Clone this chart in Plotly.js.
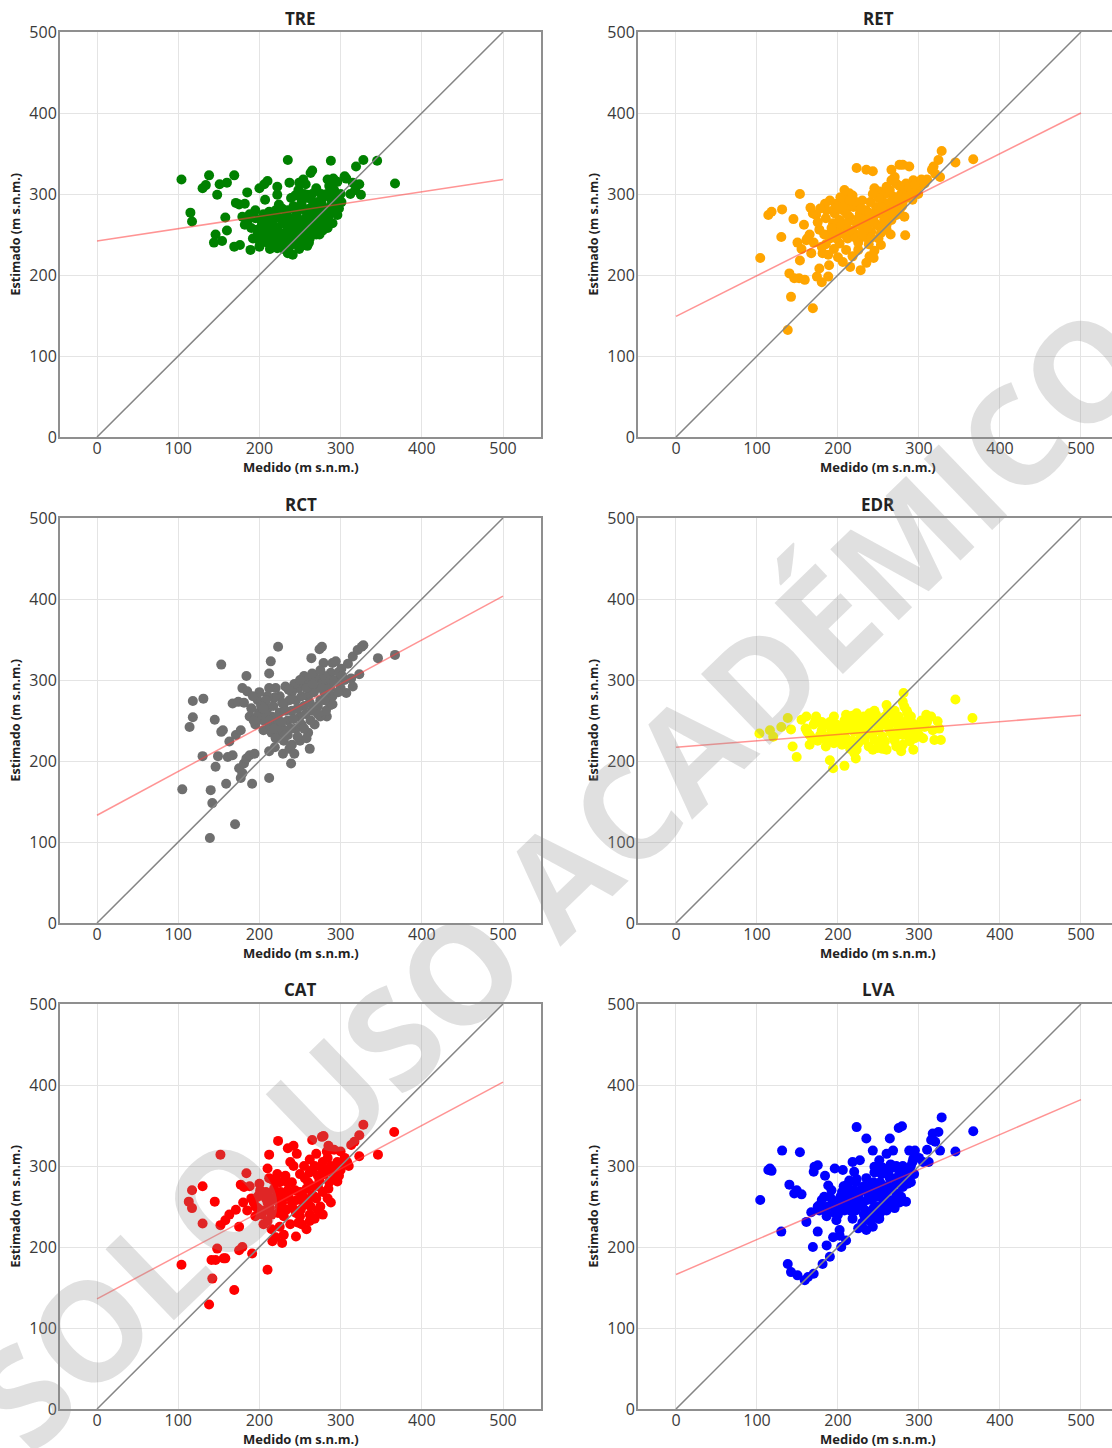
<!DOCTYPE html>
<html><head><meta charset="utf-8">
<script src="https://cdn.plot.ly/plotly-3.0.1.min.js"></script>
<style>html,body{margin:0;padding:0;background:#fff}#chart{width:1112px;height:1448px}</style>
</head><body><div id="chart"></div>
<script>
const panelNames = ['TRE','RET','RCT','EDR','CAT','LVA'];
const panelColors = ['#008000','#FFA500','#6f6f6f','#FFFF00','#FF0000','#0000FF'];
const fitIntercept = [242, 149, 133, 217, 136, 166];
const fitSlope = [0.152, 0.502, 0.541, 0.079, 0.535, 0.432];
const identityRange = [0, 500];
const tickValues = [0, 100, 200, 300, 400, 500];
const tickLabels = ['0', '100', '200', '300', '400', '500'];
const xTitleText = 'Medido (m s.n.m.)';
const yTitleText = 'Estimado (m s.n.m.)';
const watermarkText = 'SOLO USO ACADÉMICO';

// [Medido, Estimado]
const treData = [[104,318],[235,342],[288,341],[328,342],[345,341],[319,334],[367,313],[138,323],[169,323],[130,307],[134,311],[151,312],[160,314],[148,299],[185,302],[171,289],[182,288],[206,312],[210,316],[200,307],[222,309],[237,314],[249,314],[254,318],[263,326],[265,329],[284,318],[291,319],[305,322],[307,319],[315,314],[323,312],[325,299],[207,293],[222,299],[224,287],[239,295],[242,283],[257,312],[270,307],[278,295],[274,287],[259,299],[249,299],[115,277],[117,266],[158,271],[160,255],[146,250],[144,240],[154,242],[169,235],[176,237],[189,231],[222,233],[235,227],[241,225],[257,246],[290,264],[296,274],[175,287],[179,272],
[185,265],[190,258],[195,270],[198,250],[203,262],[208,255],[212,268],[215,248],[218,260],[222,272],[225,252],[228,264],[232,245],[235,258],[238,270],[240,250],[243,262],[246,276],[248,255],[250,268],[252,245],[255,260],[258,272],[260,252],[262,282],[265,265],[268,257],[270,275],[272,290],[275,268],[278,280],[280,262],[283,300],[285,272],[288,285],[290,278],[292,305],[295,290],[298,282],[300,300],[252,290],[255,300],[260,295],[265,300],[244,298],[248,305],[235,280],[228,282],[220,280],[212,278],[205,275],[195,280],[188,275],[182,262],[200,242],[210,240],[220,245],[230,240],[245,238],[255,237],[262,245],[270,250],[278,255],[284,258],[205,250],[215,257],[232,252],[242,285],[256,280],[266,290],[276,300],[286,310],[296,315],[312,300],[318,305],[230,232],[213,232],[200,235],
[192,245],[197,256],[202,268],[207,245],[213,262],[217,240],[223,255],[227,244],[231,266],[236,243],[239,256],[242,240],[247,250],[251,258],[254,242],[257,266],[261,240],[264,252],[267,270],[271,262],[274,250],[279,270],[282,276],[286,265],[289,292],[293,283],[297,296],[301,290],[226,238],[237,235],[249,232],[259,236],[217,268],[208,262],[233,275],[244,270],[253,284],[264,277],[277,287],[287,298],[268,283],[240,260],[226,270],[250,252],[262,258],[215,275],[200,255]];

const retData = [[104,221],[114,274],[118,278],[131,281],[145,269],[153,300],[130,247],[138,132],[142,173],[169,159],[140,202],[146,196],[152,196],[159,194],[174,198],[180,191],[188,198],[189,212],[177,208],[155,232],[161,243],[167,227],[181,227],[223,332],[235,330],[243,328],[276,336],[280,336],[288,334],[266,330],[270,321],[328,353],[324,342],[318,334],[316,330],[345,339],[367,343],[326,321],[283,249],[228,206],[244,221],[239,223],[253,237],[214,301],[210,292],[184,288],[173,274],[169,276],[177,256],[190,251],[202,239],[210,231],[206,216],[218,223],[225,231],[245,307],[251,303],[260,309],[266,317],[272,313],[284,313],[293,317],[301,311],[307,313],[292,293],[247,284],[255,291],[268,297],[276,280],[282,272],[219,284],[227,276],[235,280],[243,270],[223,264],[231,256],[214,272],[202,268],[196,276],[206,280],[186,280],[194,264],[210,260],[221,251],[233,247],[241,253],[251,260],[260,256],[266,268],[198,288],[206,295],[215,285],[225,270],[235,265],[248,262],[255,275],[262,285],[270,290],[278,300],[285,305],[290,298],[300,310],[240,290],[230,292],[218,298],[205,285],[200,255],[190,245],[185,238],[195,232],[212,245],[225,240],[238,238],[250,245],[260,262],[272,274],[280,290],[296,305],[310,318],[320,325],[265,250],[245,230],[235,215],[215,210],[200,222],[188,225],[180,235],[170,240],[165,250],[175,265],[185,270],[158,262],[162,245],[150,240],[153,218],[222,290],[208,305],[190,292],[178,282],[166,283],
[183,250],[192,258],[198,245],[204,262],[208,250],[213,266],[217,255],[222,246],[226,262],[229,250],[234,270],[237,258],[241,246],[245,265],[249,276],[253,252],[257,268],[262,276],[265,290],[269,280],[274,296],[279,285],[283,295],[287,308],[291,305],[295,312],[299,300],[303,318],[258,300],[250,295],[243,300],[229,282],[215,292],[203,296],[196,282],[211,275],[239,276],[254,283],[264,305],[276,310]];

const rctData = [[105,165],[139,105],[170,122],[142,148],[140,164],[159,172],[177,179],[191,172],[212,179],[114,242],[118,254],[118,274],[131,277],[145,251],[153,319],[223,341],[214,323],[212,308],[184,305],[179,290],[185,286],[130,206],[149,206],[146,193],[161,205],[167,207],[153,236],[155,238],[163,224],[171,232],[177,238],[167,271],[174,273],[181,272],[175,191],[181,197],[184,203],[188,207],[194,209],[179,185],[212,212],[219,217],[229,209],[237,215],[243,209],[239,197],[264,327],[274,338],[277,341],[279,321],[290,321],[294,323],[288,309],[301,314],[309,320],[315,329],[321,337],[326,341],[328,343],[323,307],[313,302],[307,284],[287,269],[283,255],[346,327],[367,331],
[200,260],[205,250],[210,265],[215,255],[220,245],[225,260],[230,270],[235,250],[240,262],[245,275],[250,255],[255,268],[260,280],[265,262],[270,290],[275,275],[280,285],[285,295],[290,280],[295,300],[300,290],[248,290],[255,295],[262,298],[270,302],[278,296],[240,285],[232,292],[225,280],[218,278],[210,280],[198,275],[190,265],[188,255],[195,245],[205,238],[215,235],[225,235],[235,232],[245,240],[252,245],[260,235],[268,245],[275,255],[282,262],[290,270],[230,225],[240,220],[250,225],[258,228],[262,215],[220,228],[228,240],[212,245],[280,305],[288,300],[265,308],[255,305],[275,312],[298,310],[305,300],[315,292],[208,275],[200,285],[192,280],
[202,268],[207,258],[212,250],[217,268],[222,255],[227,248],[232,262],[237,275],[242,252],[247,265],[252,280],[257,258],[262,272],[267,285],[272,268],[277,290],[282,278],[287,290],[292,298],[297,285],[302,305],[243,295],[250,300],[258,290],[266,295],[236,288],[228,272],[220,290],[212,290],[205,265],[197,255],[193,250],[238,240],[247,230],[255,240],[263,250],[272,258],[280,275],[218,240],[232,232]];

const edrData = [[103,234],[116,238],[120,230],[130,242],[138,253],[142,239],[144,218],[149,205],[155,251],[161,255],[173,255],[190,201],[194,191],[208,194],[222,203],[281,284],[260,269],[280,273],[282,267],[286,259],[345,276],[366,253],[323,249],[325,240],[317,238],[307,242],[305,228],[319,226],[327,226],[289,224],[293,214],[272,218],[280,220],[260,214],[249,216],[243,214],[223,214],[309,257],[315,255],[210,257],[223,259],[239,259],[247,257],[268,257],
[160,240],[165,232],[170,245],[175,225],[180,238],[185,230],[190,248],[195,222],[200,235],[205,242],[210,228],[215,250],[220,236],[225,222],[230,245],[235,232],[240,250],[245,226],[250,238],[255,230],[260,246],[265,236],[270,225],[275,242],[280,232],[285,250],[290,238],[295,228],[300,244],[250,220],[238,218],[228,228],[215,215],[205,220],[185,218],[175,248],[165,220],[195,255],[218,256],[232,255],[255,252],[270,252],[262,262],[245,262],[285,240],[275,255],[248,245],[222,243],[210,238],[192,238],[180,228],[300,232],[310,248],[268,230],[290,255],[255,215],[278,212],[220,210],
[162,236],[168,228],[172,250],[178,232],[183,244],[188,226],[193,232],[198,245],[203,228],[208,250],[213,240],[218,225],[223,248],[228,238],[233,226],[238,242],[243,234],[248,252],[253,244],[258,224],[263,240],[268,248],[273,232],[278,246],[283,236],[288,228],[293,246],[298,238],[303,250],[258,255],[243,255],[228,252],[212,222],[198,225],[180,248],[270,262],[285,262]];

const catData = [[104,178],[138,129],[169,147],[142,161],[141,184],[146,184],[158,186],[210,172],[152,314],[117,270],[113,256],[117,248],[130,275],[130,229],[145,256],[184,291],[210,297],[212,314],[223,331],[235,322],[242,325],[265,332],[277,336],[279,337],[328,351],[323,338],[317,330],[366,342],[346,314],[323,312],[313,326],[296,281],[284,260],[265,264],[245,213],[228,205],[216,207],[148,198],[156,186],[175,196],[179,200],[191,192],[152,227],[158,233],[175,225],[163,240],[171,246],[181,274],[177,277],
[190,260],[195,250],[200,265],[205,245],[210,255],[215,240],[220,262],[225,250],[230,238],[235,270],[240,255],[245,242],[250,268],[255,252],[260,280],[262,240],[268,262],[272,275],[275,250],[280,290],[285,272],[288,300],[292,285],[296,305],[300,295],[305,310],[310,300],[250,290],[255,300],[262,308],[270,315],[278,305],[283,318],[240,280],[232,288],[225,280],[218,272],[208,268],[200,278],[198,248],[205,228],[215,222],[225,225],[238,228],[248,230],[258,222],[268,235],[278,240],[288,255],[230,215],[220,212],[210,232],[195,238],[185,245],[180,255],[188,275],[242,300],[265,295],[285,325],[292,320],[300,318],[272,288],[260,258],[250,238],[230,262],[222,290],[212,285],[246,315],[238,305],
[193,255],[198,262],[203,240],[208,260],[213,248],[218,258],[223,242],[228,255],[233,246],[236,262],[241,248],[246,258],[251,246],[254,262],[258,272],[263,250],[266,275],[270,260],[274,282],[278,268],[282,295],[286,280],[290,292],[294,300],[298,288],[303,302],[308,305],[256,285],[262,292],[268,300],[276,298],[284,310],[244,270],[234,280],[226,268],[217,282],[210,265],[201,270],[252,228],[262,232],[272,245]];

const lvaData = [[104,258],[116,297],[118,294],[114,295],[131,319],[153,317],[140,277],[146,266],[155,265],[149,270],[130,219],[138,179],[142,169],[150,165],[159,159],[163,163],[170,167],[181,179],[190,188],[169,200],[175,219],[186,202],[194,212],[202,221],[198,233],[161,231],[167,243],[177,245],[171,299],[175,301],[170,293],[184,288],[188,276],[196,297],[206,295],[210,276],[223,348],[235,334],[243,319],[264,334],[275,347],[279,349],[328,360],[324,342],[317,340],[315,332],[367,343],[345,318],[326,319],[305,305],[293,309],[288,319],[295,319],[280,274],[284,256],[272,266],[251,307],[260,315],[268,319],[245,299],[249,293],[227,307],[218,305],[220,293],[223,284],[214,282],[251,235],[243,225],[241,239],[235,221],[225,223],[202,214],[210,208],[204,200],
[175,250],[180,258],[185,245],[190,262],[195,250],[200,240],[205,268],[210,255],[215,245],[220,262],[225,250],[228,270],[232,240],[236,258],[240,275],[244,248],[248,262],[252,280],[256,255],[260,268],[264,285],[268,258],[272,278],[276,290],[280,300],[284,285],[288,295],[292,305],[260,245],[250,235],[240,232],[230,230],[218,235],[206,248],[196,242],[186,238],[212,275],[222,280],[235,285],[245,292],[255,298],[265,302],[272,300],[262,275],[250,270],[238,265],[226,258],[214,258],[202,258],[192,270],[246,240],[270,248],[278,262],[290,280],[300,310],[310,320],[320,330],[312,305],
[178,252],[183,262],[188,250],[193,258],[198,248],[203,262],[208,245],[213,265],[217,252],[222,245],[226,265],[230,252],[234,245],[238,268],[242,258],[246,270],[250,250],[254,262],[258,275],[262,258],[266,272],[270,285],[274,265],[278,280],[282,295],[286,278],[290,300],[294,290],[254,290],[244,280],[232,275],[220,270],[207,275],[262,292],[270,298],[240,242],[252,242],[264,250],[276,255]];

const panelData = [treData, retData, rctData, edrData, catData, lvaData];

// ---- layout geometry (pixels in a 1112 x 1448 figure) ----
const W = 1112, H = 1448;
const colPx = [[60, 541], [638, 1112]];
const colRange = [[-45.6, 546.8], [-46.9, 538.3]];
const rowPx = [[32, 437], [518, 923], [1004, 1409]];
const FONT = 'Open Sans, Noto Sans, sans-serif';

const traces = [];
const layout = {
  width: W, height: H,
  margin: {l: 0, r: 0, t: 0, b: 0},
  paper_bgcolor: '#ffffff', plot_bgcolor: '#ffffff',
  showlegend: false,
  font: {family: FONT, color: '#333333'},
  annotations: []
};

panelNames.forEach((name, i) => {
  const row = Math.floor(i / 2), col = i % 2;
  const n = i + 1;
  const xa = n === 1 ? 'x' : 'x' + n;
  const ya = n === 1 ? 'y' : 'y' + n;
  const data = panelData[i];
  traces.push({
    type: 'scatter', mode: 'markers',
    x: data.map(p => p[0]), y: data.map(p => p[1]),
    xaxis: xa, yaxis: ya,
    marker: {color: panelColors[i], size: 10, line: {width: 0}},
    hoverinfo: 'x+y'
  });
  traces.push({
    type: 'scatter', mode: 'lines',
    x: identityRange, y: identityRange,
    xaxis: xa, yaxis: ya,
    line: {color: '#858585', width: 1.5}, hoverinfo: 'skip'
  });
  traces.push({
    type: 'scatter', mode: 'lines',
    x: identityRange, y: identityRange.map(v => fitIntercept[i] + fitSlope[i] * v),
    xaxis: xa, yaxis: ya,
    line: {color: 'rgba(255,60,60,0.55)', width: 1.5}, hoverinfo: 'skip'
  });
  const common = {
    showline: true, linecolor: '#8f8f8f', linewidth: 2,
    showgrid: true, gridcolor: '#e4e4e4', gridwidth: 1,
    zeroline: true, zerolinecolor: '#e4e4e4', zerolinewidth: 1,
    tickmode: 'array', tickvals: tickValues, ticktext: tickLabels,
    ticks: '', tickfont: {family: FONT, size: 16, color: '#3a3a3a'},
    fixedrange: true
  };
  layout[n === 1 ? 'xaxis' : 'xaxis' + n] = Object.assign({}, common, {
    domain: [colPx[col][0] / W, colPx[col][1] / W],
    range: colRange[col], anchor: ya, mirror: true, ticklabelstandoff: -4
  });
  layout[n === 1 ? 'yaxis' : 'yaxis' + n] = Object.assign({}, common, {
    domain: [1 - rowPx[row][1] / H, 1 - rowPx[row][0] / H],
    range: [0, 500], anchor: xa, mirror: col === 0, ticklabelstandoff: -2
  });
  const cx = col === 0 ? 300.5 : 878;
  layout.annotations.push({
    text: '<b>' + name + '</b>', xref: 'paper', yref: 'paper',
    x: cx / W, y: 1 - (rowPx[row][0] - 14) / H, xanchor: 'center', yanchor: 'middle',
    showarrow: false, font: {family: FONT, size: 17, color: '#222222'}
  });
  layout.annotations.push({
    text: '<b>' + xTitleText + '</b>', xref: 'paper', yref: 'paper',
    x: cx / W, y: 1 - (rowPx[row][1] + 30) / H, xanchor: 'center', yanchor: 'middle',
    showarrow: false, font: {family: FONT, size: 13, color: '#222222'}
  });
  layout.annotations.push({
    text: '<b>' + yTitleText + '</b>', xref: 'paper', yref: 'paper',
    x: (colPx[col][0] - 45) / W, y: 1 - (rowPx[row][0] + rowPx[row][1]) / 2 / H,
    xanchor: 'center', yanchor: 'middle', textangle: -90,
    showarrow: false, font: {family: FONT, size: 12.5, color: '#222222'}
  });
});

layout.annotations.push({
  text: '<b>' + watermarkText + '</b>', xref: 'paper', yref: 'paper',
  x: 557 / W, y: 1 - 875 / H, xanchor: 'center', yanchor: 'middle',
  textangle: -44, showarrow: false,
  font: {family: FONT, size: 138, color: 'rgba(140,140,140,0.27)'}
});

Plotly.newPlot('chart', traces, layout, {displayModeBar: false, staticPlot: true});
</script>
</body></html>
